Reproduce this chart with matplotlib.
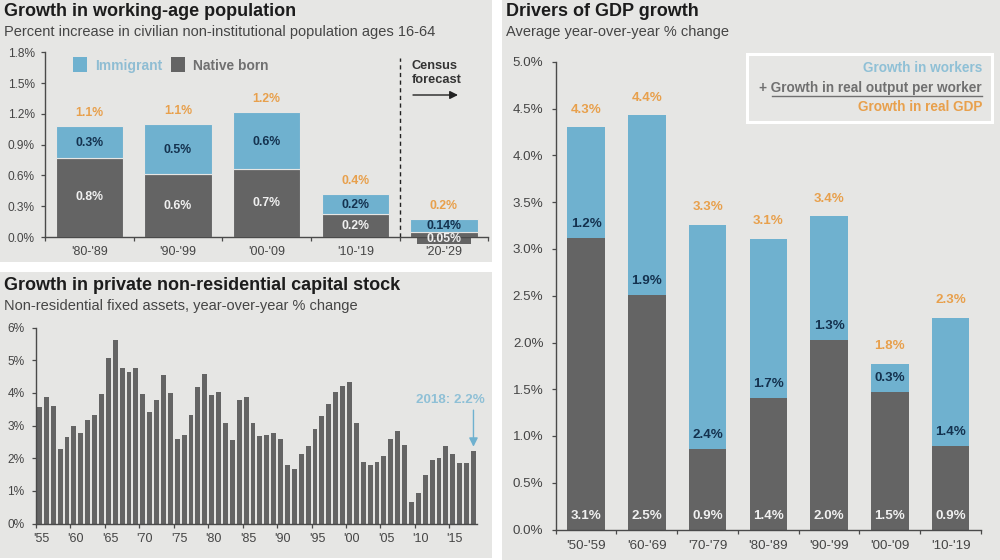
import matplotlib
matplotlib.use("Agg")
import matplotlib.pyplot as plt
from matplotlib.patches import Rectangle, FancyArrowPatch

plt.rcParams['font.family'] = ['Liberation Sans', 'DejaVu Sans']

BLUE = '#6fb1cf'
DARK = '#646464'
ORANGE = '#e8a04c'
NAVY = '#14324f'
TEXT = '#454545'
PANEL = '#e6e6e4'

# Working-age population
pop_cats = ["'80-'89", "'90-'99", "'00-'09", "'10-'19", "'20-'29"]
pop_native = [0.77, 0.61, 0.66, 0.22, 0.05]
pop_total = [1.08, 1.10, 1.22, 0.42, 0.18]
pop_native_lab = ['0.8%', '0.6%', '0.7%', '0.2%', '0.05%']
pop_imm_lab = ['0.3%', '0.5%', '0.6%', '0.2%', '0.14%']
pop_total_lab = ['1.1%', '1.1%', '1.2%', '0.4%', '0.2%']
pop_ticks = [0, 0.3, 0.6, 0.9, 1.2, 1.5, 1.8]

# Capital stock
cap_years = list(range(1955, 2019))
cap_vals = [3.57, 3.87, 3.60, 2.27, 2.65, 2.97, 2.77, 3.18, 3.33, 3.95,
            5.07, 5.63, 4.77, 4.65, 4.77, 3.95, 3.42, 3.78, 4.55, 3.98,
            2.58, 2.72, 3.33, 4.17, 4.57, 3.92, 4.02, 3.08, 2.55, 3.78,
            3.87, 3.08, 2.68, 2.72, 2.78, 2.58, 1.80, 1.67, 2.12, 2.37,
            2.90, 3.28, 3.67, 4.02, 4.20, 4.33, 3.08, 1.88, 1.78, 1.88,
            2.08, 2.60, 2.83, 2.40, 0.67, 0.93, 1.47, 1.95, 2.02, 2.37,
            2.13, 1.85, 1.85, 2.22]
cap_tick_years = list(range(1955, 2016, 5))
cap_tick_labs = ["'55", "'60", "'65", "'70", "'75", "'80", "'85", "'90", "'95",
                 "'00", "'05", "'10", "'15"]
cap_yticks = [0, 1, 2, 3, 4, 5, 6]

# GDP drivers
gdp_cats = ["'50-'59", "'60-'69", "'70-'79", "'80-'89", "'90-'99", "'00-'09", "'10-'19"]
gdp_output = [3.12, 2.51, 0.86, 1.41, 2.03, 1.47, 0.89]
gdp_total = [4.30, 4.43, 3.26, 3.11, 3.35, 1.77, 2.26]
gdp_out_lab = ['3.1%', '2.5%', '0.9%', '1.4%', '2.0%', '1.5%', '0.9%']
gdp_wrk_lab = ['1.2%', '1.9%', '2.4%', '1.7%', '1.3%', '0.3%', '1.4%']
gdp_tot_lab = ['4.3%', '4.4%', '3.3%', '3.1%', '3.4%', '1.8%', '2.3%']
gdp_ticks = [0, 0.5, 1, 1.5, 2, 2.5, 3, 3.5, 4, 4.5, 5]

W, H = 1000, 560
fig = plt.figure(figsize=(W / 100, H / 100), dpi=100, facecolor='white')


def box(x0, y0, x1, y1):
    return [x0 / W, 1 - y1 / H, (x1 - x0) / W, (y1 - y0) / H]


def fx(x):
    return x / W


def fy(y):
    return 1 - y / H


for x0, y0, x1, y1 in [(0, 0, 492, 262), (0, 272, 492, 558), (502, 0, 1000, 560)]:
    fig.add_artist(Rectangle((fx(x0), fy(y1)), (x1 - x0) / W, (y1 - y0) / H,
                             transform=fig.transFigure, fc=PANEL, ec='none', zorder=-5))


def style(ax, size, pad):
    ax.patch.set_alpha(0)
    for s in ('top', 'right'):
        ax.spines[s].set_visible(False)
    for s in ('left', 'bottom'):
        ax.spines[s].set_color('#4a4a4a')
        ax.spines[s].set_linewidth(1.0)
        ax.spines[s].set_zorder(3)
    ax.tick_params(colors='#4a4a4a', labelcolor=TEXT, labelsize=size, length=3, width=0.9, pad=pad)


def heads(x, y, ysub, title, sub):
    fig.text(fx(x), fy(y), title, fontsize=13, fontweight='bold', color='#1c1c1c', va='center')
    fig.text(fx(x), fy(ysub), sub, fontsize=10.5, color=TEXT, va='center')


heads(4, 12, 32, 'Growth in working-age population',
      'Percent increase in civilian non-institutional population ages 16-64')
heads(4, 285, 306, 'Growth in private non-residential capital stock',
      'Non-residential fixed assets, year-over-year % change')
heads(506, 12, 32, 'Drivers of GDP growth', 'Average year-over-year % change')

# ---- top-left
ax = fig.add_axes(box(45, 52.3, 488.3, 237))
style(ax, 8.6, 4.3)
xs = list(range(len(pop_cats)))
imm = [t - n for t, n in zip(pop_total, pop_native)]
ax.bar(xs, pop_native, width=0.76, color=DARK, ec=PANEL, lw=0.8, zorder=2)
ax.bar(xs, imm, bottom=pop_native, width=0.76, color=BLUE, ec=PANEL, lw=0.8, zorder=2)
ax.set_xlim(-0.5, 4.5)
ax.set_ylim(0, 1.8)
ax.set_yticks(pop_ticks)
ax.set_yticklabels([f'{v:.1f}%' for v in pop_ticks])
ax.set_xticks([i - 0.5 for i in range(6)])
ax.set_xticklabels([])
for i, c in enumerate(pop_cats):
    ax.text(i, -0.146, c, ha='center', va='center', fontsize=9, color=TEXT, clip_on=False)
for i in range(5):
    n_y = pop_native[i] * 0.5 if i < 4 else -0.02
    ax.text(i, n_y, pop_native_lab[i], ha='center', va='center', fontsize=8.8,
            fontweight='bold', color='#f0f0f0', zorder=4, clip_on=False)
    ax.text(i, (pop_native[i] + pop_total[i]) / 2 - 0.01, pop_imm_lab[i], ha='center', va='center',
            fontsize=8.8, fontweight='bold', color=NAVY, zorder=4)
    ax.text(i, pop_total[i] + 0.125, pop_total_lab[i], ha='center', va='center', fontsize=8.8,
            fontweight='bold', color=ORANGE, zorder=4)
# the label plate that hangs under the last bar
ax.add_patch(Rectangle((3.7, -0.07), 0.6, 0.07, fc=DARK, ec='none', clip_on=False, zorder=1))
ax.axvline(3.5, color='#222222', lw=1, ls=(0, (3, 2.5)), ymin=0, ymax=0.97, zorder=3)
fig.text(fx(412), fy(66), 'Census', fontsize=9.2, fontweight='bold', color='#333333', va='center')
fig.text(fx(412), fy(80), 'forecast', fontsize=9.2, fontweight='bold', color='#333333', va='center')
fig.add_artist(FancyArrowPatch((fx(413), fy(95)), (fx(458), fy(95)), transform=fig.transFigure,
                               arrowstyle='-|>', mutation_scale=12, color='#222222', lw=1,
                               shrinkA=0, shrinkB=0))
fig.add_artist(Rectangle((fx(72.5), fy(71.5)), 14 / W, 14 / H, transform=fig.transFigure, fc=BLUE, ec='none'))
fig.text(fx(95), fy(66), 'Immigrant', fontsize=10, fontweight='bold', color='#8fbdd3', va='center')
fig.add_artist(Rectangle((fx(171), fy(71.5)), 14 / W, 14 / H, transform=fig.transFigure, fc=DARK, ec='none'))
fig.text(fx(193), fy(66), 'Native born', fontsize=9.9, fontweight='bold', color='#707070', va='center')

# ---- bottom-left
ax = fig.add_axes(box(36, 327.5, 477, 523.5))
style(ax, 8.6, 5.2)
ax.bar(cap_years, cap_vals, width=0.72, color=DARK, zorder=2)
ax.set_xlim(1954.6, 1954.6 + 441 / 6.9)
ax.set_ylim(0, 6)
ax.set_yticks(cap_yticks)
ax.set_yticklabels([f'{v}%' for v in cap_yticks])
ax.set_xticks([y - 0.5 for y in cap_tick_years])
ax.set_xticklabels([])
for y, l in zip(cap_tick_years, cap_tick_labs):
    ax.text(y + 0.3, -0.46, l, ha='center', va='center', fontsize=9, color=TEXT, clip_on=False)
ax.annotate('', xy=(cap_years[-1], cap_vals[-1] + 0.13), xytext=(cap_years[-1], 3.47),
            arrowprops=dict(arrowstyle='-|>', color=BLUE, lw=1, mutation_scale=13, shrinkA=0, shrinkB=0),
            zorder=4)
ax.text(cap_years[-1] - 3.3, 3.78, f'{cap_years[-1]}: {cap_vals[-1]:.1f}%', ha='center', va='center',
        fontsize=9.6, fontweight='bold', color='#8fc0d6', clip_on=False)

# ---- right
ax = fig.add_axes(box(555.7, 62, 981, 529.5))
style(ax, 9.6, 5.8)
xs = list(range(len(gdp_cats)))
wrk = [t - o for t, o in zip(gdp_total, gdp_output)]
ax.bar(xs, gdp_output, width=0.62, color=DARK, zorder=2)
ax.bar(xs, wrk, bottom=gdp_output, width=0.62, color=BLUE, zorder=2)
ax.set_xlim(-0.5, 6.5)
ax.set_ylim(0, 5)
ax.set_yticks(gdp_ticks)
ax.set_yticklabels([f'{v:.1f}%' for v in gdp_ticks])
ax.set_xticks([i - 0.5 for i in range(8)])
ax.set_xticklabels([])
for i, c in enumerate(gdp_cats):
    ax.text(i, -0.172, c, ha='center', va='center', fontsize=9.6, color=TEXT, clip_on=False)
    ax.text(i, 0.147, gdp_out_lab[i], ha='center', va='center', fontsize=9.6, fontweight='bold',
            color='#f0f0f0', zorder=4)
    ax.text(i, gdp_output[i] + 0.15, gdp_wrk_lab[i], ha='center', va='center', fontsize=9.6,
            fontweight='bold', color=NAVY, zorder=4)
    ax.text(i, gdp_total[i] + 0.19, gdp_tot_lab[i], ha='center', va='center', fontsize=9.6,
            fontweight='bold', color=ORANGE, zorder=4)

fig.add_artist(Rectangle((fx(746.5), fy(122)), 245 / W, 68 / H, transform=fig.transFigure,
                         fc='none', ec='white', lw=2.2))
fig.text(fx(982), fy(68), 'Growth in workers', ha='right', va='center', fontsize=9.8,
         fontweight='bold', color='#8fc0d6')
fig.text(fx(982), fy(88), '+ Growth in real output per worker', ha='right', va='center', fontsize=9.8,
         fontweight='bold', color='#707070')
fig.add_artist(plt.Line2D([fx(772), fx(982)], [fy(95.7), fy(95.7)], transform=fig.transFigure,
                          color='#707070', lw=1))
fig.text(fx(982), fy(107), 'Growth in real GDP', ha='right', va='center', fontsize=9.8,
         fontweight='bold', color=ORANGE)

fig.savefig('out.png', dpi=100, facecolor='white')
